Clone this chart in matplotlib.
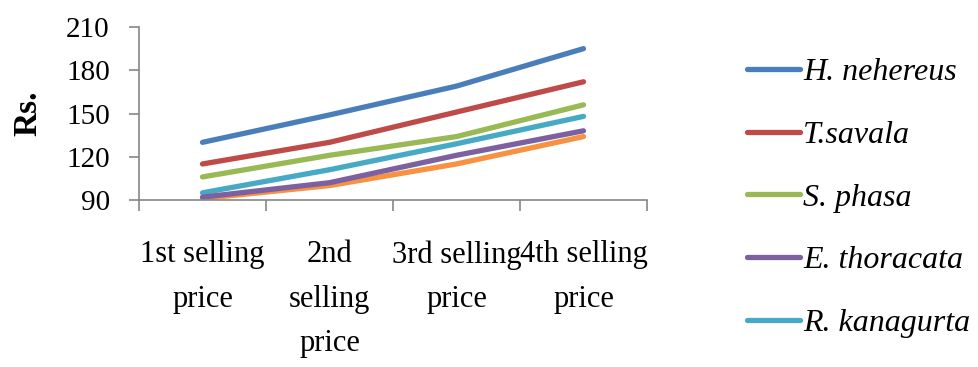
import matplotlib
matplotlib.use("Agg")
import matplotlib.pyplot as plt
from matplotlib.ticker import FixedLocator

plt.rcParams['font.family'] = ['Liberation Serif', 'DejaVu Serif']

categories = ["1st selling\nprice", "2nd\nselling\nprice", "3rd selling\nprice", "4th selling\nprice"]
species = ["H. nehereus", "T.savala", "S. phasa", "E. thoracata", "R. kanagurta", None]
prices = {
    "H. nehereus":  [130, 149, 169, 195],
    "T.savala":     [115, 130, 151, 172],
    "S. phasa":     [106, 121, 134, 156],
    "E. thoracata": [92, 102, 121, 138],
    "R. kanagurta": [95, 111, 129, 148],
    None:           [91, 100, 115, 134],
}
colors = ["#4A7EBB", "#BE4B48", "#98B954", "#7D60A0", "#46AAC5", "#F69240"]
yticks = [90, 120, 150, 180, 210]

fig = plt.figure(figsize=(9.79, 3.67), dpi=100)
ax = fig.add_axes([139/979, 1 - 200/367, (647 - 139)/979, (200 - 27)/367])

x = list(range(1, len(categories) + 1))
# unlabelled series first, then the named ones in reverse so the first sits on top
draw_order = [5, 4, 3, 2, 1, 0]
lines = {}
for i in draw_order:
    name = species[i]
    ln, = ax.plot(x, prices[name], color=colors[i], lw=3.8,
                  solid_capstyle='round', solid_joinstyle='round',
                  label=name if name else '_nolegend_')
    lines[i] = ln

ax.set_xlim(0.5, 4.5)
ax.set_ylim(90, 210)
ax.set_yticks(yticks)
ax.set_yticklabels([str(v) for v in yticks])
ax.set_xticks(x)
ax.set_xticklabels(categories, linespacing=1.7)
ax.xaxis.set_minor_locator(FixedLocator([0.5, 1.5, 2.5, 3.5, 4.5]))

for s in ("top", "right"):
    ax.spines[s].set_visible(False)
for s in ("left", "bottom"):
    ax.spines[s].set_color("#868686")
    ax.spines[s].set_linewidth(1.2)

ax.tick_params(axis='y', which='major', length=7, width=1.2, color="#868686",
               direction='out', labelsize=21, pad=14)
ax.tick_params(axis='x', which='major', length=0, labelsize=22, pad=29)
ax.tick_params(axis='x', which='minor', length=8, width=1.2, color="#868686",
               direction='out')

fig.text(28/979, 1 - 113/367, "Rs.", rotation=90, fontsize=24, fontweight='bold',
         ha='center', va='center')

handles = [lines[i] for i in range(5)]
labels = [species[i] for i in range(5)]
leg = fig.legend(handles, labels, loc='upper left',
                 bbox_to_anchor=(747/979, 1 - 58/367), frameon=False,
                 prop={'style': 'italic', 'size': 23}, handlelength=1.66,
                 handletextpad=0.1, labelspacing=1.04, borderpad=0,
                 borderaxespad=0)

fig.savefig("out.png", dpi=100)
